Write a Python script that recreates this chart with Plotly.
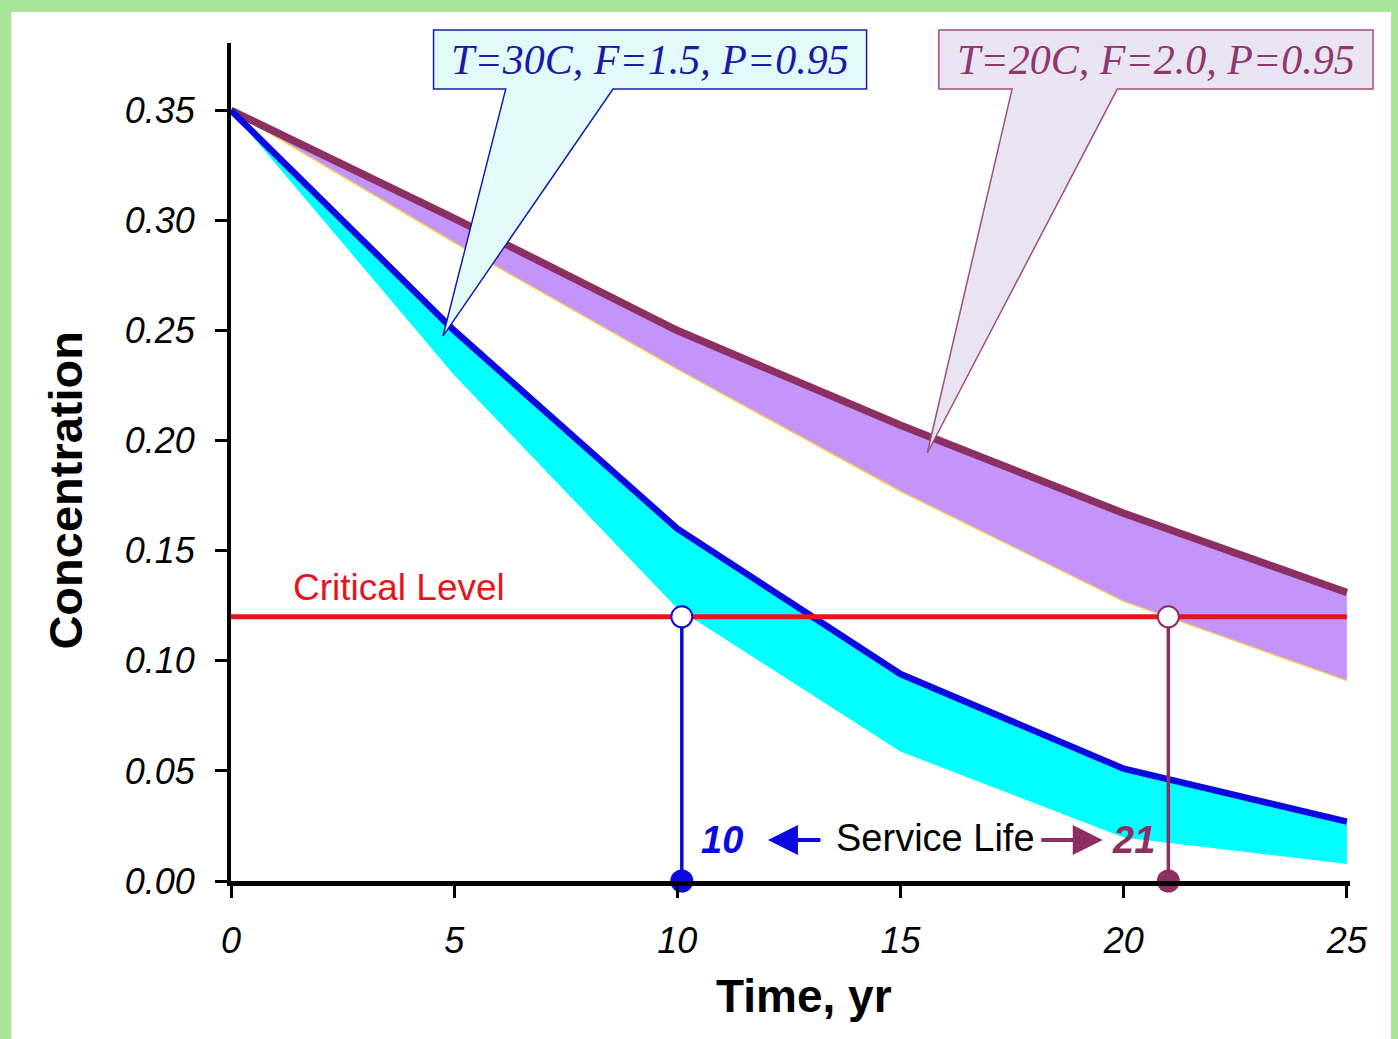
import plotly.graph_objects as go

# ---------------- data ----------------
time_yr = [0, 5, 10, 15, 20, 25]
t30_upper = [0.350, 0.250, 0.160, 0.094, 0.051, 0.027]
t30_lower = [0.350, 0.230, 0.124, 0.059, 0.020, 0.008]
t20_upper = [0.350, 0.301, 0.250, 0.207, 0.167, 0.131]
t20_lower = [0.350, 0.290, 0.2325, 0.177, 0.127, 0.091]
critical_level = 0.12
service_life = [10.1, 21.0]
service_labels = ["10", "21"]
callout_texts = ["T=30C, F=1.5, P=0.95", "T=20C, F=2.0, P=0.95"]
callout_tips = [(4.75, 0.2475), (15.6, 0.1944)]
x_ticks = [0, 5, 10, 15, 20, 25]
y_ticks = [0.0, 0.05, 0.10, 0.15, 0.20, 0.25, 0.30, 0.35]

# ---------------- styles ----------------
BLUE = "#0a0ae0"
CYAN = "#00ffff"
MAROON = "#8c2f62"
PURPLE = "#c494fa"
RED = "#e8141c"
GREEN = "#a9e59a"
XR = [0, 25.07]
YR = [0, 0.3806]
FONT = "Arial, Liberation Sans"

fig = go.Figure()

# T=20C band
fig.add_trace(go.Scatter(x=time_yr, y=t20_lower, mode="lines",
                         line=dict(color="#f2cf5a", width=1.5), hoverinfo="skip"))
fig.add_trace(go.Scatter(x=time_yr, y=t20_upper, mode="lines", fill="tonexty",
                         fillcolor=PURPLE, line=dict(color=MAROON, width=7.5)))
# T=30C band
fig.add_trace(go.Scatter(x=time_yr, y=t30_lower, mode="lines",
                         line=dict(color=CYAN, width=1), hoverinfo="skip"))
fig.add_trace(go.Scatter(x=time_yr, y=t30_upper, mode="lines", fill="tonexty",
                         fillcolor=CYAN, line=dict(color=BLUE, width=6.5)))
# critical level
fig.add_trace(go.Scatter(x=[time_yr[0], time_yr[-1]], y=[critical_level] * 2,
                         mode="lines", line=dict(color=RED, width=5)))

# service life drop lines and markers
for sl, col in zip(service_life, [BLUE, MAROON]):
    fig.add_trace(go.Scatter(x=[sl, sl], y=[critical_level, 0], mode="lines",
                             line=dict(color=col, width=3.5)))
    fig.add_trace(go.Scatter(x=[sl], y=[0], mode="markers", cliponaxis=False,
                             marker=dict(color=col, size=23, line=dict(width=0))))
    fig.add_trace(go.Scatter(x=[sl], y=[critical_level], mode="markers", cliponaxis=False,
                             marker=dict(color="white", size=21, line=dict(color=col, width=2))))


def dpx(x):
    return (x - XR[0]) / (XR[1] - XR[0])


def dpy(y):
    return (y - YR[0]) / (YR[1] - YR[0])


shapes = [
    dict(type="rect", xref="paper", yref="paper", x0=-0.1962, x1=1.0367,
         y0=-0.25, y1=1.037, fillcolor="white", line=dict(width=0), layer="below"),
]

# callouts: box (paper) + wedge pointing to data tip
callout_boxes = [
    dict(x0=0.181, x1=0.568, y0=0.945, y1=1.0155, w0=0.2455, w1=0.3414,
         fill="#e2fafa", line="#1a1aa6", text="#1a1aa6"),
    dict(x0=0.6326, x1=1.0206, y0=0.945, y1=1.0155, w0=0.698, w1=0.792,
         fill="#e8e4f2", line="#a14e7c", text="#8e3670"),
]
annotations = []
for box, txt, tip in zip(callout_boxes, callout_texts, callout_tips):
    tx, ty = dpx(tip[0]), dpy(tip[1])
    path = (f"M {box['x0']},{box['y1']} L {box['x1']},{box['y1']} "
            f"L {box['x1']},{box['y0']} L {box['w1']},{box['y0']} "
            f"L {tx},{ty} L {box['w0']},{box['y0']} L {box['x0']},{box['y0']} Z")
    shapes.append(dict(type="path", xref="paper", yref="paper", path=path,
                       fillcolor=box["fill"], line=dict(color=box["line"], width=1.5),
                       layer="above"))
    annotations.append(dict(xref="paper", yref="paper",
                            x=(box["x0"] + box["x1"]) / 2, y=(box["y0"] + box["y1"]) / 2,
                            text=txt, showarrow=False, xanchor="center", yanchor="middle",
                            font=dict(family="Liberation Serif", size=42, color=box["text"],
                                      style="italic")))

# text labels
annotations += [
    dict(x=3.76, y=0.1335, text="Critical Level", showarrow=False,
         xanchor="center", yanchor="middle",
         font=dict(family=FONT, size=37, color=RED)),
    dict(x=11.0, y=0.0186, text=service_labels[0], showarrow=False,
         xanchor="center", yanchor="middle",
         font=dict(family=FONT, size=38, color=BLUE, style="italic", weight="bold")),
    dict(x=20.23, y=0.0186, text=service_labels[1], showarrow=False,
         xanchor="center", yanchor="middle",
         font=dict(family=FONT, size=38, color=MAROON, style="italic", weight="bold")),
    dict(x=15.79, y=0.0195, text="Service Life", showarrow=False,
         xanchor="center", yanchor="middle",
         font=dict(family=FONT, size=38, color="black")),
    dict(x=12.03, y=0.0186, ax=13.24, ay=0.0186, axref="x", ayref="y", text="",
         showarrow=True, arrowhead=2, arrowsize=1.5, arrowwidth=4, arrowcolor=BLUE),
    dict(x=19.53, y=0.0186, ax=18.12, ay=0.0186, axref="x", ayref="y", text="",
         showarrow=True, arrowhead=2, arrowsize=1.5, arrowwidth=4, arrowcolor=MAROON),
    dict(xref="paper", yref="paper", x=0.5125, y=-0.137, text="Time, yr", showarrow=False,
         xanchor="center", yanchor="middle",
         font=dict(family=FONT, size=46, color="black", weight="bold")),
    dict(xref="paper", yref="paper", x=-0.1478, y=0.4666, text="Concentration",
         showarrow=False, textangle=-90, xanchor="center", yanchor="middle",
         font=dict(family=FONT, size=47, color="black", weight="bold")),
]

fig.update_layout(
    width=1398, height=1039,
    margin=dict(l=231, r=48, t=43, b=158),
    paper_bgcolor=GREEN, plot_bgcolor="white",
    showlegend=False,
    shapes=shapes, annotations=annotations,
    xaxis=dict(range=XR, tickvals=x_ticks, ticks="outside", ticklen=12, tickwidth=3,
               tickcolor="black", showline=True, linecolor="black", linewidth=4.5,
               showgrid=False, zeroline=False, ticklabelstandoff=12,
               tickfont=dict(family=FONT, size=36, color="black", style="italic")),
    yaxis=dict(range=YR, tickvals=y_ticks, tickformat=".2f", ticks="outside", ticklen=12,
               tickwidth=3, tickcolor="black", showline=True, linecolor="black", linewidth=4,
               showgrid=False, zeroline=False, ticklabelstandoff=13,
               tickfont=dict(family=FONT, size=36, color="black", style="italic")),
)

fig.write_html(
    "out.html",
    config={"displayModeBar": False},
    post_script="document.body.style.margin='0';document.body.style.padding='0';"
                "document.body.style.overflow='hidden';"
                "document.body.style.background='" + GREEN + "';",
)
